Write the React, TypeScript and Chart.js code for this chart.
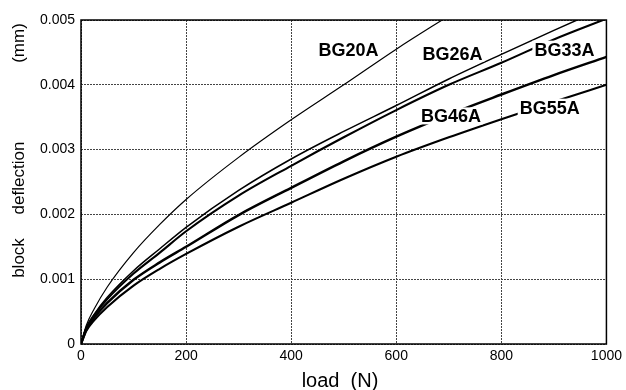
import React, { useEffect, useRef } from "react";
import { Chart, registerables } from "chart.js";

Chart.register(...registerables);

// load (N)
const loads = [0, 10, 25, 50, 100, 150, 200, 300, 400, 500, 600, 700, 800, 900, 1000];
// block deflection (mm)
const bg20a = [0, 0.000285, 0.00054, 0.00088, 0.00141, 0.001845, 0.00223, 0.00288, 0.00346, 0.0040, 0.00455, 0.005065, null, null, null];
const bg26a = [0, 0.000253, 0.000458, 0.00072, 0.00113, 0.00147, 0.0018, 0.00237, 0.002855, 0.00328, 0.00368, 0.00409, 0.00447, 0.00484, 0.0052];
const bg33a = [0, 0.000243, 0.000441, 0.000692, 0.001087, 0.00141, 0.00174, 0.00229, 0.00275, 0.00319, 0.00361, 0.0040, 0.00434, 0.0047, 0.00502];
const bg46a = [0, 0.000222, 0.000404, 0.000633, 0.00099, 0.00126, 0.0015, 0.00199, 0.00241, 0.00282, 0.0032, 0.00354, 0.00385, 0.00415, 0.00443];
const bg55a = [0, 0.0002, 0.000365, 0.000572, 0.0009, 0.00116, 0.00139, 0.00181, 0.00218, 0.00255, 0.00289, 0.00319, 0.00347, 0.00374, 0.0040];

const seriesNames = ["BG20A", "BG26A", "BG33A", "BG46A", "BG55A"];
const seriesValues = [bg20a, bg26a, bg33a, bg46a, bg55a];
// label anchor positions in data units (load, deflection)
const labelLoads = [509, 707, 920, 704, 892];
const labelDefl = [0.00454, 0.00449, 0.00455, 0.00352, 0.003655];

const xTicks = [0, 200, 400, 600, 800, 1000];
const yTicks = [0, 0.001, 0.002, 0.003, 0.004, 0.005];

const lineWidths = [1.2, 1.5, 2.1, 2.5, 2.1];
const FONT = "'Liberation Sans', Arial, Helvetica, sans-serif";

export default function App() {
  const ref = useRef<HTMLCanvasElement | null>(null);
  useEffect(() => {
    if (!ref.current) return;
    const decor = {
      id: "decor",
      afterDatasetsDraw(chart: any) {
        const ctx = chart.ctx;
        const xs = chart.scales.x;
        const ys = chart.scales.y;
        const a = chart.chartArea;
        ctx.save();
        ctx.font = `bold 18px ${FONT}`;
        ctx.textAlign = "center";
        ctx.textBaseline = "alphabetic";
        seriesNames.forEach((n, i) => {
          const cx = xs.getPixelForValue(labelLoads[i]);
          const cy = ys.getPixelForValue(labelDefl[i]);
          const w = ctx.measureText(n).width;
          const capH = 13;
          ctx.fillStyle = "#fff";
          ctx.fillRect(cx - w / 2 - 2, cy - capH / 2 - 2, w + 4, capH + 4);
          ctx.fillStyle = "#000";
          ctx.fillText(n, cx, cy + capH / 2);
        });
        ctx.strokeStyle = "#000";
        ctx.lineWidth = 1.5;
        ctx.strokeRect(a.left, a.top, a.right - a.left, a.bottom - a.top);
        ctx.restore();
      },
      afterDraw(chart: any) {
        const ctx = chart.ctx;
        ctx.save();
        ctx.fillStyle = "#000";
        ctx.textAlign = "center";
        ctx.textBaseline = "middle";
        ctx.font = `20px ${FONT}`;
        ctx.fillText("load  (N)", 340, 381);
        ctx.font = `17px ${FONT}`;
        const words: [string, number][] = [["(mm)", 43], ["deflection", 178], ["block", 258]];
        words.forEach(([t, y]) => {
          ctx.save();
          ctx.translate(19, y);
          ctx.rotate(-Math.PI / 2);
          ctx.fillText(t, 0, 0);
          ctx.restore();
        });
        ctx.restore();
      },
    };

    const chart = new Chart(ref.current, {
      type: "line",
      data: {
        labels: loads,
        datasets: seriesNames.map((n, i) => ({
          label: n,
          data: loads.map((x, j) => ({ x, y: seriesValues[i][j] })),
          borderColor: "#000",
          backgroundColor: "#000",
          borderWidth: lineWidths[i],
          pointRadius: 0,
          fill: false,
          cubicInterpolationMode: "monotone" as const,
          spanGaps: false,
        })),
      },
      options: {
        animation: false,
        responsive: false,
        devicePixelRatio: 1,
        layout: { padding: { top: 20, right: 18, left: 0, bottom: 0 } },
        plugins: {
          legend: { display: false },
          tooltip: { enabled: false },
          title: { display: false },
        },
        scales: {
          x: {
            type: "linear",
            min: 0,
            max: 1000,
            afterBuildTicks: (s: any) => {
              s.ticks = xTicks.map((v) => ({ value: v }));
            },
            afterFit: (s: any) => {
              s.height = 46;
            },
            ticks: {
              color: "#000",
              font: { family: FONT, size: 14 },
              padding: 4,
              maxRotation: 0,
              autoSkip: false,
              callback: (v: any) => String(v),
            },
            grid: { color: "#444", lineWidth: 1, drawTicks: false },
            border: { display: false, dash: [2, 1] },
          },
          y: {
            type: "linear",
            min: 0,
            max: 0.005,
            afterBuildTicks: (s: any) => {
              s.ticks = yTicks.map((v) => ({ value: v }));
            },
            afterFit: (s: any) => {
              s.width = 81;
            },
            ticks: {
              color: "#000",
              font: { family: FONT, size: 14 },
              padding: 6,
              autoSkip: false,
              callback: (v: any) => (Number(v) === 0 ? "0" : Number(v).toFixed(3)),
            },
            grid: { color: "#444", lineWidth: 1, drawTicks: false },
            border: { display: false, dash: [2, 1] },
          },
        },
      },
      plugins: [decor],
    });
    return () => chart.destroy();
  }, []);
  return (
    <div style={{ position: "fixed", left: 0, top: 0, width: 626, height: 390, background: "#fff" }}>
      <canvas ref={ref} width={626} height={390} style={{ width: 626, height: 390, display: "block" }} />
    </div>
  );
}
